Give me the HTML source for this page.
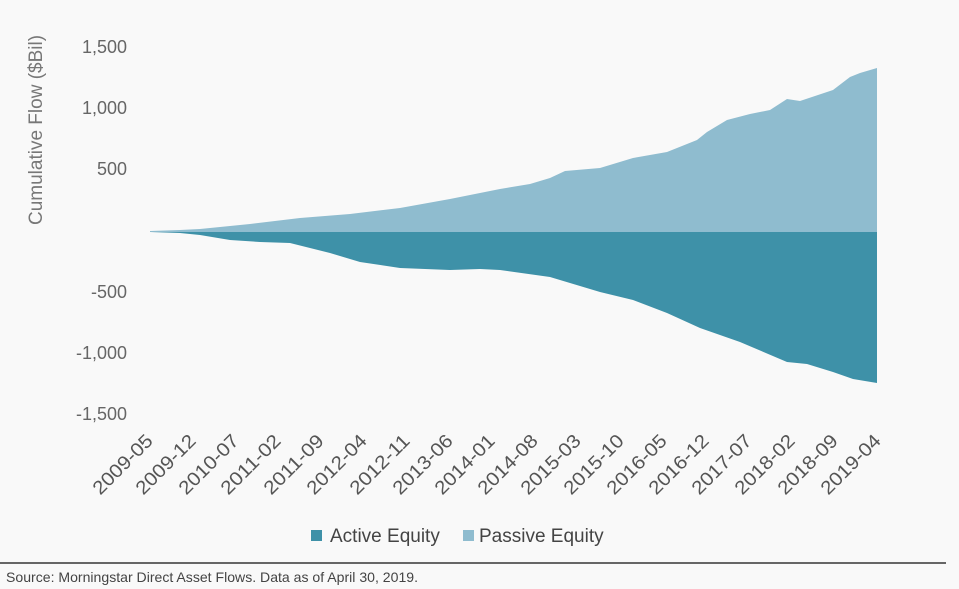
<!DOCTYPE html>
<html><head><style>
html,body{margin:0;padding:0;background:#f9f9f9;}
body{width:959px;height:589px;overflow:hidden;position:relative;font-family:"Liberation Sans",sans-serif;}
</style></head><body>
<svg width="959" height="589" viewBox="0 0 959 589" style="position:absolute;left:0;top:0">
<rect width="959" height="589" fill="#f9f9f9"/>
<g font-family="Liberation Sans, sans-serif" font-size="18" fill="#666" text-anchor="end">
<text x="127" y="53">1,500</text>
<text x="127" y="114">1,000</text>
<text x="127" y="175">500</text>
<text x="127" y="298">-500</text>
<text x="127" y="359">-1,000</text>
<text x="127" y="420">-1,500</text>
</g>
<text transform="translate(42,130) rotate(-90)" text-anchor="middle" font-family="Liberation Sans, sans-serif" font-size="19" fill="#777">Cumulative Flow ($Bil)</text>
<path fill="#8fbccf" d="M150,231 L180,230 L200,229 L250,224 L300,218 L350,214 L400,208 L450,199 L480,193 L500,189 L530,184 L550,178 L565,171 L600,168 L633,158 L667,152 L697,140 L707,132 L727,120 L750,114 L770,110 L787,99 L800,101 L833,90 L850,77 L860,73 L877,68 L877,232 L150,232 Z"/>
<path fill="#3e91a8" d="M150,232 L180,233 L200,235 L230,240 L260,242 L290,243 L330,253 L360,262 L400,268 L450,270 L480,269 L500,270 L550,277 L600,292 L633,300 L667,313 L700,328 L740,342 L787,362 L807,364 L833,372 L853,379 L877,383 L877,232 Z"/>
<g font-family="Liberation Sans, sans-serif" font-size="19" fill="#555" text-anchor="end">
<text transform="translate(154,442) rotate(-45)" textLength="76" lengthAdjust="spacingAndGlyphs">2009-05</text>
<text transform="translate(197,442) rotate(-45)" textLength="76" lengthAdjust="spacingAndGlyphs">2009-12</text>
<text transform="translate(240,442) rotate(-45)" textLength="76" lengthAdjust="spacingAndGlyphs">2010-07</text>
<text transform="translate(282,442) rotate(-45)" textLength="76" lengthAdjust="spacingAndGlyphs">2011-02</text>
<text transform="translate(325,442) rotate(-45)" textLength="76" lengthAdjust="spacingAndGlyphs">2011-09</text>
<text transform="translate(368,442) rotate(-45)" textLength="76" lengthAdjust="spacingAndGlyphs">2012-04</text>
<text transform="translate(411,442) rotate(-45)" textLength="76" lengthAdjust="spacingAndGlyphs">2012-11</text>
<text transform="translate(454,442) rotate(-45)" textLength="76" lengthAdjust="spacingAndGlyphs">2013-06</text>
<text transform="translate(496,442) rotate(-45)" textLength="76" lengthAdjust="spacingAndGlyphs">2014-01</text>
<text transform="translate(539,442) rotate(-45)" textLength="76" lengthAdjust="spacingAndGlyphs">2014-08</text>
<text transform="translate(582,442) rotate(-45)" textLength="76" lengthAdjust="spacingAndGlyphs">2015-03</text>
<text transform="translate(625,442) rotate(-45)" textLength="76" lengthAdjust="spacingAndGlyphs">2015-10</text>
<text transform="translate(668,442) rotate(-45)" textLength="76" lengthAdjust="spacingAndGlyphs">2016-05</text>
<text transform="translate(710,442) rotate(-45)" textLength="76" lengthAdjust="spacingAndGlyphs">2016-12</text>
<text transform="translate(753,442) rotate(-45)" textLength="76" lengthAdjust="spacingAndGlyphs">2017-07</text>
<text transform="translate(796,442) rotate(-45)" textLength="76" lengthAdjust="spacingAndGlyphs">2018-02</text>
<text transform="translate(839,442) rotate(-45)" textLength="76" lengthAdjust="spacingAndGlyphs">2018-09</text>
<text transform="translate(882,442) rotate(-45)" textLength="76" lengthAdjust="spacingAndGlyphs">2019-04</text>
</g>
<rect x="311" y="530" width="11" height="11" fill="#3e91a8"/>
<text x="330" y="542" font-family="Liberation Sans, sans-serif" font-size="19" fill="#444">Active Equity</text>
<rect x="463" y="530" width="11" height="11" fill="#8fbccf"/>
<text x="479" y="542" font-family="Liberation Sans, sans-serif" font-size="19" fill="#444">Passive Equity</text>
<line x1="0" y1="563" x2="946" y2="563" stroke="#666" stroke-width="2"/>
<text x="6" y="582" font-family="Liberation Sans, sans-serif" font-size="14" fill="#444" textLength="412" lengthAdjust="spacingAndGlyphs">Source: Morningstar Direct Asset Flows. Data as of April 30, 2019.</text>
</svg>
</body></html>
